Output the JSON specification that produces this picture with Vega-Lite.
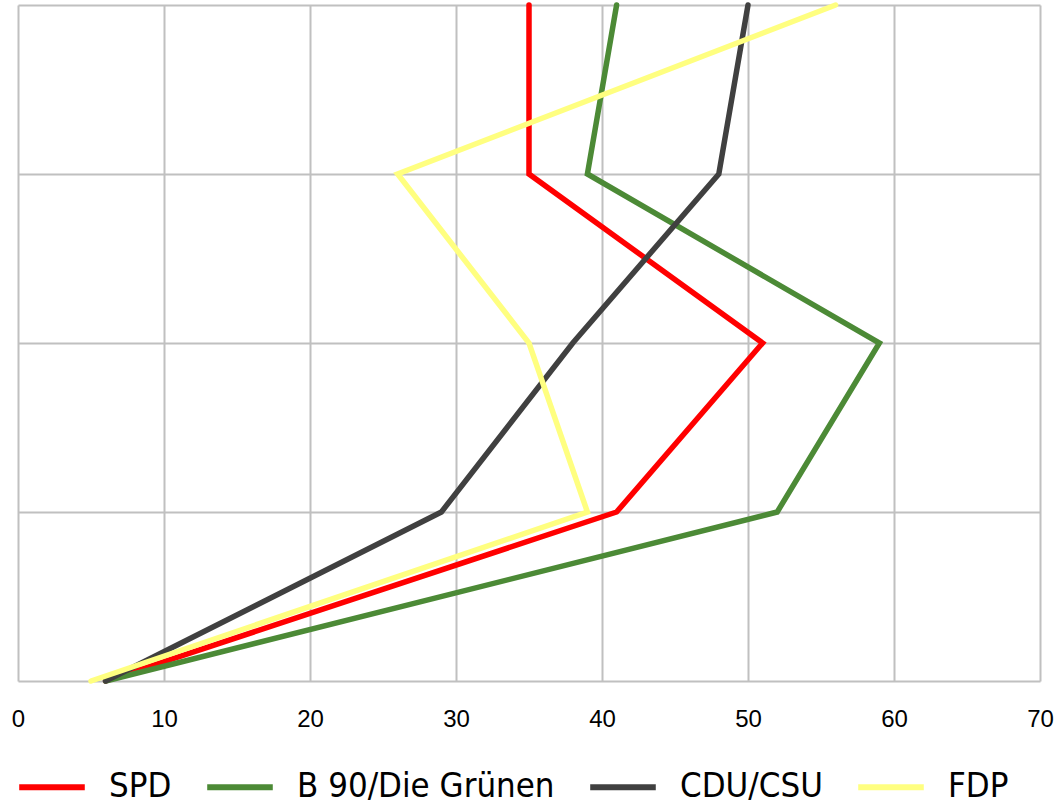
{
  "$schema": "https://vega.github.io/schema/vega-lite/v6.json",
  "width": 1022,
  "height": 676,
  "autosize": {"type": "none"},
  "padding": {"left": 18, "top": 5, "right": 20, "bottom": 124},
  "background": "white",
  "config": {
    "view": {"stroke": null},
    "font": "Liberation Sans"
  },
  "data": {
    "values": [
      {"partei": "SPD", "stufe": 0, "wert": 6},
      {"partei": "SPD", "stufe": 1, "wert": 41},
      {"partei": "SPD", "stufe": 2, "wert": 51},
      {"partei": "SPD", "stufe": 3, "wert": 35},
      {"partei": "SPD", "stufe": 4, "wert": 35},
      {"partei": "B 90/Die Grünen", "stufe": 0, "wert": 6},
      {"partei": "B 90/Die Grünen", "stufe": 1, "wert": 52},
      {"partei": "B 90/Die Grünen", "stufe": 2, "wert": 59},
      {"partei": "B 90/Die Grünen", "stufe": 3, "wert": 39},
      {"partei": "B 90/Die Grünen", "stufe": 4, "wert": 41},
      {"partei": "CDU/CSU", "stufe": 0, "wert": 6},
      {"partei": "CDU/CSU", "stufe": 1, "wert": 29},
      {"partei": "CDU/CSU", "stufe": 2, "wert": 38},
      {"partei": "CDU/CSU", "stufe": 3, "wert": 48},
      {"partei": "CDU/CSU", "stufe": 4, "wert": 50},
      {"partei": "FDP", "stufe": 0, "wert": 5},
      {"partei": "FDP", "stufe": 1, "wert": 39},
      {"partei": "FDP", "stufe": 2, "wert": 35},
      {"partei": "FDP", "stufe": 3, "wert": 26},
      {"partei": "FDP", "stufe": 4, "wert": 56}
    ]
  },
  "mark": {"type": "line", "strokeWidth": 5.5, "strokeJoin": "miter", "strokeCap": "round", "clip": false},
  "encoding": {
    "x": {
      "field": "wert",
      "type": "quantitative",
      "scale": {"domain": [0, 70], "nice": false, "zero": false},
      "axis": {
        "title": null,
        "values": [0, 10, 20, 30, 40, 50, 60, 70],
        "domain": false,
        "ticks": false,
        "grid": true,
        "gridColor": "#c0c0c0",
        "gridWidth": 2,
        "gridOpacity": 1,
        "labelFlush": false,
        "labelFontSize": 24,
        "labelColor": "#000000",
        "labelPadding": 26,
        "labelFont": "Liberation Sans"
      }
    },
    "y": {
      "field": "stufe",
      "type": "quantitative",
      "scale": {"domain": [0, 4], "nice": false, "zero": false},
      "axis": {
        "title": null,
        "values": [0, 1, 2, 3, 4],
        "labels": false,
        "domain": false,
        "ticks": false,
        "grid": true,
        "gridColor": "#c0c0c0",
        "gridWidth": 2,
        "gridOpacity": 1
      }
    },
    "order": {"field": "stufe", "type": "quantitative"},
    "color": {
      "field": "partei",
      "type": "nominal",
      "sort": ["SPD", "B 90/Die Grünen", "CDU/CSU", "FDP"],
      "scale": {
        "domain": ["SPD", "B 90/Die Grünen", "CDU/CSU", "FDP"],
        "range": ["#ff0000", "#4c8a36", "#404040", "#ffff80"]
      },
      "legend": {
        "title": null,
        "orient": "none",
        "legendX": -2,
        "legendY": 746,
        "direction": "horizontal",
        "symbolType": "stroke",
        "symbolSize": 4300,
        "symbolStrokeWidth": 6,
        "labelFont": "DejaVu Sans Condensed",
        "labelFontSize": 34.5,
        "labelFontWeight": 500,
        "labelColor": "#000000",
        "labelOffset": 21,
        "columnPadding": 23,
        "labelLimit": 400
      }
    }
  }
}
